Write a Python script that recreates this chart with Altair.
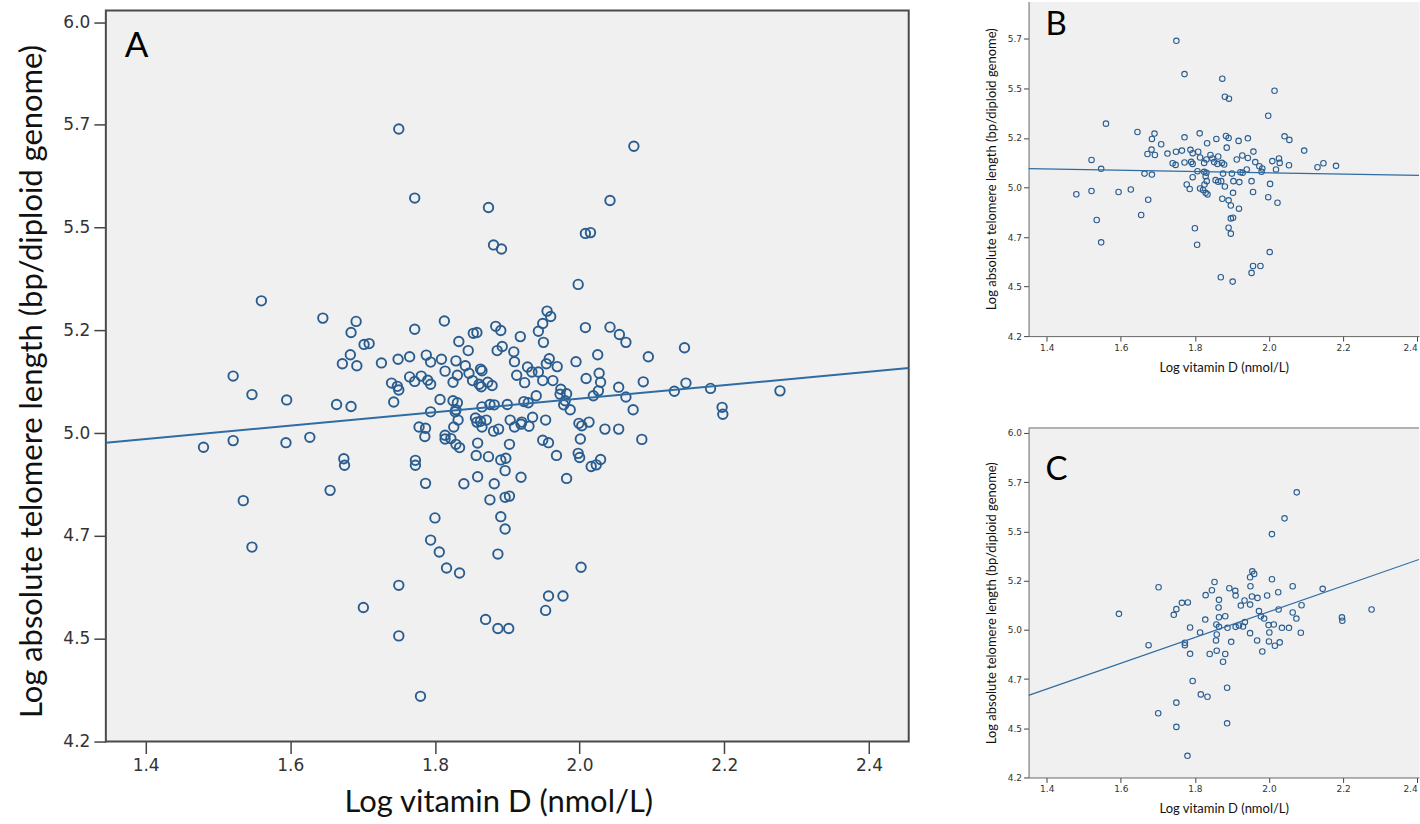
import altair as alt
import pandas as pd

# Group B: log vitamin D (nmol/L) and log absolute telomere length
b_vitd = [1.750, 1.772, 1.874, 1.881, 1.892, 2.015, 1.998, 1.560, 1.521, 1.547,
          1.480, 1.521, 1.594, 1.627, 1.535, 1.547, 1.806, 2.002, 1.870, 1.902,
          1.957, 1.977, 1.953, 2.131, 2.147, 2.181,
          1.645, 1.691, 1.684, 1.709, 1.772, 1.813, 1.833, 1.858, 1.884, 1.891,
          1.886, 1.918, 1.943, 2.042, 2.055, 2.095, 1.958, 1.672, 1.683, 1.692,
          1.726, 1.749, 1.765, 1.788, 1.794, 1.809, 1.740, 1.748, 1.772, 1.790,
          1.794, 1.814, 1.825, 1.831, 1.842, 1.847, 1.863, 1.852, 1.861, 1.873,
          1.879, 1.913, 1.928, 1.943, 1.963, 1.974, 1.982, 1.980, 2.009, 2.027,
          2.029, 2.054, 2.019, 1.940, 1.923, 1.929, 1.900, 1.876, 1.825, 1.831,
          1.829, 1.807, 1.664, 1.684, 1.794, 1.832, 1.826, 1.856, 1.863, 1.871,
          1.904, 1.920, 1.953, 1.778, 1.786, 1.814, 1.822, 1.829, 1.834, 1.881,
          1.903, 1.957, 2.003, 1.674, 1.874, 1.891, 1.897, 1.919, 1.998, 2.023,
          1.655, 1.897, 1.903, 1.800, 1.891, 1.897]
b_tel = [5.740, 5.572, 5.549, 5.458, 5.448, 5.488, 5.362, 5.322, 5.139, 5.094,
         4.966, 4.982, 4.977, 4.990, 4.836, 4.723, 4.711, 4.674, 4.547, 4.525,
         4.604, 4.604, 4.569, 5.102, 5.122, 5.109,
         5.280, 5.272, 5.245, 5.218, 5.253, 5.273, 5.223, 5.245, 5.260, 5.250,
         5.201, 5.235, 5.248, 5.258, 5.240, 5.186, 5.181, 5.169, 5.191, 5.164,
         5.171, 5.180, 5.186, 5.190, 5.173, 5.180, 5.122, 5.114, 5.126, 5.129,
         5.119, 5.151, 5.124, 5.141, 5.164, 5.146, 5.156, 5.128, 5.119, 5.124,
         5.116, 5.141, 5.161, 5.149, 5.128, 5.107, 5.096, 5.079, 5.133, 5.146,
         5.124, 5.112, 5.091, 5.091, 5.077, 5.074, 5.070, 5.070, 5.079, 5.074,
         5.057, 5.082, 5.070, 5.065, 5.052, 5.032, 5.015, 5.037, 5.029, 5.032,
         5.032, 5.027, 5.032, 5.015, 4.992, 4.995, 4.987, 4.973, 4.965, 5.005,
         4.973, 4.977, 5.018, 4.938, 4.943, 4.935, 4.909, 4.893, 4.951, 4.923,
         4.861, 4.844, 4.847, 4.794, 4.797, 4.767]

# Group C
c_vitd = [1.702, 1.853, 1.846, 1.829, 1.893, 1.909, 1.910, 1.955, 1.960, 1.949,
          1.950, 2.008, 2.064, 2.145, 2.025, 1.995, 1.954, 1.969, 1.934, 1.865,
          1.864, 1.924, 1.949, 1.765, 1.781, 1.750, 1.743, 2.088, 2.026, 1.973,
          2.064, 1.978, 1.987, 2.074, 1.882, 1.865, 1.828, 1.787, 1.814, 1.858,
          1.865, 1.888, 1.910, 1.919, 1.935, 1.930, 1.999, 2.013, 2.035, 2.054,
          1.859, 1.949, 2.001, 2.086, 1.857, 1.898, 1.968, 2.000, 2.029, 2.016,
          1.675, 1.773, 1.773, 1.787, 1.840, 1.859, 1.882, 1.876, 1.982, 1.794,
          2.075, 2.042, 2.008, 1.595, 2.197, 2.198, 2.277, 1.750, 1.701, 1.750,
          1.780, 1.816, 1.834, 1.887, 1.887]
c_tel = [5.216, 5.243, 5.201, 5.176, 5.211, 5.198, 5.174, 5.297, 5.284, 5.267,
         5.221, 5.257, 5.221, 5.208, 5.191, 5.174, 5.169, 5.162, 5.149, 5.152,
         5.113, 5.123, 5.128, 5.137, 5.139, 5.105, 5.076, 5.125, 5.103, 5.095,
         5.088, 5.069, 5.057, 5.057, 5.069, 5.064, 5.052, 5.012, 4.986, 5.027,
         5.015, 5.010, 5.015, 5.022, 5.039, 5.017, 5.024, 5.027, 5.010, 5.010,
         4.976, 4.983, 4.986, 4.985, 4.946, 4.939, 4.946, 4.941, 4.936, 4.919,
         4.922, 4.934, 4.922, 4.878, 4.877, 4.894, 4.877, 4.838, 4.890, 4.740,
         5.698, 5.566, 5.486, 5.081, 5.063, 5.046, 5.103, 4.630, 4.576, 4.507,
         4.360, 4.672, 4.660, 4.706, 4.525]

# Linear fits (intercept, slope)
fit_all = (4.756, 0.164)
fit_b = (5.140, -0.033)
fit_c = (3.782, 0.655)

y_ticks = [4.25, 4.5, 4.75, 5.0, 5.25, 5.5, 5.75, 6.0]
x_ticks = [1.4, 1.6, 1.8, 2.0, 2.2, 2.4]

POINT = "#2a5d8f"
LINE = "#2f6ca3"
BG = "#f0f0f0"
TITLE_FONT = "Lato"
TICK_FONT = "DejaVu Sans"
Y_TITLE = "Log absolute telomere length (bp/diploid genome)"
X_TITLE = "Log vitamin D (nmol/L)"
LABEL_EXPR = "format(floor(datum.value * 10 + 0.001) / 10, '.1f')"


def points_df(xs, ys):
    return pd.DataFrame({"vitd": xs, "tel": ys})


def fit_df(fit, lo, hi):
    return pd.DataFrame({"vitd": [lo, hi],
                         "tel": [fit[0] + fit[1] * lo, fit[0] + fit[1] * hi]})


def panel(xs, ys, fit, letter, xdom, ydom, width, height, big,
          letter_pos, frame_mode, frame_top=0, top_line=False):
    if big:
        tick, lab, labpad, ttl, ttlpad, size, sw, lw = 12, 17, 4, 31, 14, 90, 1.9, 2
        lsize, frame, fw = 35, "#4a4a4a", 2
    else:
        tick, lab, labpad, ttl, ttlpad, size, sw, lw = 5, 9, 2, 13, 9, 30, 1.1, 1.2
        lsize, frame, fw = 33, "#666666", 1

    xscale = alt.Scale(domain=list(xdom), nice=False, zero=False)
    yscale = alt.Scale(domain=list(ydom), nice=False, zero=False)
    common = dict(grid=False, domain=(frame_mode == "axes"),
                  domainColor=frame, domainWidth=fw,
                  tickSize=tick, tickColor="#444",
                  tickWidth=1.5 if big else 1,
                  labelFont=TICK_FONT, labelFontSize=lab, labelColor="#333",
                  labelPadding=labpad, titleFont=TITLE_FONT, titleFontSize=ttl,
                  titleFontWeight="normal", titleColor="#111",
                  titlePadding=ttlpad)
    xaxis_kw = dict(common, values=x_ticks, format=".1f")
    yaxis_kw = dict(common, values=[v for v in y_ticks if v <= ydom[1]],
                    labelExpr=LABEL_EXPR)
    if big:
        xaxis_kw["titleX"] = 393
        yaxis_kw["titleY"] = 380
    else:
        xaxis_kw["labelFlush"] = 5
    xaxis = alt.Axis(**xaxis_kw)
    yaxis = alt.Axis(**yaxis_kw)

    layers = []
    if frame_mode == "rect":
        # grey plotting box with a dark outline, starting below the top edge
        layers.append(
            alt.Chart(pd.DataFrame({"box": [0]})).mark_rect(
                fill=BG, stroke=frame, strokeWidth=fw
            ).encode(x=alt.value(0), x2=alt.value(width),
                     y=alt.value(frame_top), y2=alt.value(height))
        )
    pts = alt.Chart(points_df(xs, ys)).mark_point(
        shape="circle", filled=False, color=POINT, size=size, strokeWidth=sw,
        opacity=1
    ).encode(
        x=alt.X("vitd:Q", scale=xscale, axis=xaxis, title=X_TITLE),
        y=alt.Y("tel:Q", scale=yscale, axis=yaxis, title=Y_TITLE),
    )
    line = alt.Chart(fit_df(fit, xdom[0], xdom[1])).mark_line(
        color=LINE, strokeWidth=lw, clip=True
    ).encode(x=alt.X("vitd:Q", scale=xscale), y=alt.Y("tel:Q", scale=yscale))
    tag = alt.Chart(pd.DataFrame({"tag": [letter]})).mark_text(
        font=TITLE_FONT, fontSize=lsize, align="left", baseline="top",
        color="#000"
    ).encode(text="tag:N", x=alt.value(letter_pos[0]), y=alt.value(letter_pos[1]))
    layers += [pts, line, tag]
    if top_line:
        layers.append(
            alt.Chart(pd.DataFrame({"edge": [0]})).mark_rule(
                color=frame, strokeWidth=fw
            ).encode(x=alt.value(0), x2=alt.value(width), y=alt.value(0))
        )

    if frame_mode == "axes":
        view = alt.ViewBackground(fill=BG, stroke="transparent")
    else:
        view = alt.ViewBackground(fill="transparent", stroke="transparent")
    return alt.layer(*layers).properties(width=width, height=height, view=view)


panel_a = panel(b_vitd + c_vitd, b_tel + c_tel, fit_all, "A",
                (1.345, 2.455), (4.25, 6.050), 804, 741, True, (19, 28),
                "rect", frame_top=9)
panel_b = panel(b_vitd, b_tel, fit_b, "B",
                (1.351, 2.405), (4.25, 5.938), 391, 335, False, (17, 7), "axes")
panel_c = panel(c_vitd, c_tel, fit_c, "C",
                (1.351, 2.405), (4.25, 6.025), 391, 350, False, (17, 26), "axes",
                top_line=True)

right = alt.vconcat(panel_b, panel_c, spacing=52)
chart = alt.hconcat(panel_a, right, spacing=74).properties(
    padding={"left": 16, "top": 0, "right": 0, "bottom": 0},
    background="white",
)

chart.save("out.html", embed_options={"renderer": "svg", "actions": False})
